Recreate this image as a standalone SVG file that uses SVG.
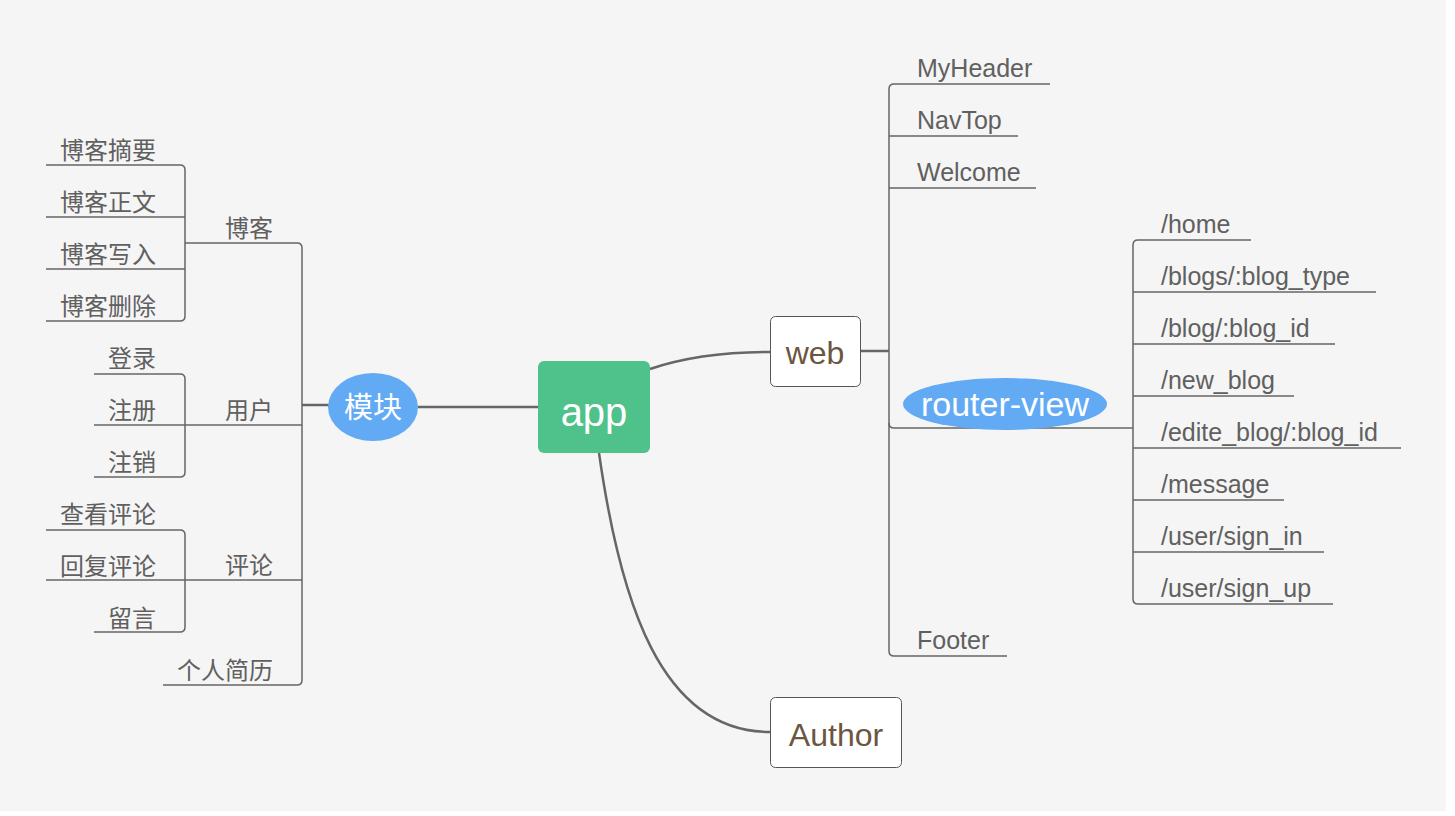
<svg xmlns="http://www.w3.org/2000/svg" width="1455" height="816" viewBox="0 0 1455 816">
<style>
.bg{fill:#f5f5f5}
.main{fill:none;stroke:#666;stroke-width:2.5}
.br{fill:none;stroke:#666;stroke-width:1.5}
.cn{font-family:"Noto Sans CJK SC","Noto Sans",sans-serif;font-size:24px;fill:#606060}
.en{font-family:"Liberation Sans",Arial,sans-serif;font-size:25px;fill:#606060}
.box{fill:#fff;stroke:#555;stroke-width:1}
.boxt{font-family:"Liberation Sans",Arial,sans-serif;font-size:32px;fill:#6b5640;text-anchor:middle}
</style>
<rect x="0" y="0" width="1455" height="816" fill="#fff"/>
<rect class="bg" x="0" y="0" width="1446" height="811"/>
<g id="connectors">
<path class="main" d="M418,407 H538"/>
<path class="main" d="M650,369 Q700,352 770,352"/>
<path class="main" d="M599,453 C620,600 660,732 770,732"/>
<path class="main" d="M329,405 H302"/>
<path class="main" d="M861,351 H889"/>
<path class="br" d="M213,243 H297 Q302,243 302,248 V680 Q302,685 297,685 H163"/>
<path class="br" d="M213,425 H302"/>
<path class="br" d="M213,580 H302"/>
<path class="br" d="M46,165 H180 Q185,165 185,170 V316 Q185,321 180,321 H46"/>
<path class="br" d="M46,217 H185 M46,269 H185 M185,243 H213"/>
<path class="br" d="M94,374 H180 Q185,374 185,379 V472 Q185,477 180,477 H94"/>
<path class="br" d="M94,425 H213"/>
<path class="br" d="M46,530 H180 Q185,530 185,535 V627 Q185,632 180,632 H94"/>
<path class="br" d="M46,580 H213"/>
<path class="br" d="M1050,84 H894 Q889,84 889,89 V651 Q889,656 894,656 H1007"/>
<path class="br" d="M889,136 H1018 M889,188 H1036"/>
<path class="br" d="M889,423 Q889,428 894,428 H1133"/>
<path class="br" d="M1251,240 H1138 Q1133,240 1133,245 V599 Q1133,604 1138,604 H1333"/>
<path class="br" d="M1133,292 H1376 M1133,344 H1335 M1133,396 H1294 M1133,448 H1401 M1133,500 H1284 M1133,552 H1324"/>
</g>
<g id="app"><rect x="538" y="361" width="112" height="92" rx="6" fill="#4fc28b"/><text x="594" y="426" font-family="Liberation Sans,Arial,sans-serif" font-size="40" fill="#fff" text-anchor="middle">app</text></g>
<g id="mokuai"><ellipse cx="373" cy="407" rx="45" ry="34" fill="#63aaf5"/><text x="373" y="418" class="cn" style="font-size:29px;fill:#fff" text-anchor="middle">模块</text></g>
<g id="web"><rect class="box" x="770.5" y="316.5" width="90" height="70" rx="5"/><text class="boxt" x="815" y="364">web</text></g>
<g id="author"><rect class="box" x="770.5" y="697.5" width="131" height="70" rx="5"/><text class="boxt" x="836" y="746">Author</text></g>
<g id="router-view"><ellipse cx="1005" cy="404" rx="102" ry="26" fill="#63aaf5"/><text x="1005" y="416" font-family="Liberation Sans,Arial,sans-serif" font-size="34" fill="#fff" text-anchor="middle">router-view</text></g>
<g id="left-nodes">
<g id="n-boke"><text class="cn" x="225" y="237">博客</text></g>
<g id="n-yonghu"><text class="cn" x="225" y="419">用户</text></g>
<g id="n-pinglun"><text class="cn" x="225" y="574">评论</text></g>
<g id="n-jianli"><text class="cn" x="177" y="679">个人简历</text></g>
<g id="n-zhaiyao"><text class="cn" x="60" y="159">博客摘要</text></g>
<g id="n-zhengwen"><text class="cn" x="60" y="211">博客正文</text></g>
<g id="n-xieru"><text class="cn" x="60" y="263">博客写入</text></g>
<g id="n-shanchu"><text class="cn" x="60" y="315">博客删除</text></g>
<g id="n-denglu"><text class="cn" x="108" y="367">登录</text></g>
<g id="n-zhuce"><text class="cn" x="108" y="419">注册</text></g>
<g id="n-zhuxiao"><text class="cn" x="108" y="471">注销</text></g>
<g id="n-chakan"><text class="cn" x="60" y="523">查看评论</text></g>
<g id="n-huifu"><text class="cn" x="60" y="575">回复评论</text></g>
<g id="n-liuyan"><text class="cn" x="108" y="627">留言</text></g>
</g>
<g id="right-nodes">
<g id="n-myheader"><text class="en" x="917" y="77">MyHeader</text></g>
<g id="n-navtop"><text class="en" x="917" y="129">NavTop</text></g>
<g id="n-welcome"><text class="en" x="917" y="181">Welcome</text></g>
<g id="n-footer"><text class="en" x="917" y="649">Footer</text></g>
<g id="n-home"><text class="en" x="1161" y="233">/home</text></g>
<g id="n-blogs"><text class="en" x="1161" y="285">/blogs/:blog_type</text></g>
<g id="n-blog"><text class="en" x="1161" y="337">/blog/:blog_id</text></g>
<g id="n-new"><text class="en" x="1161" y="389">/new_blog</text></g>
<g id="n-edite"><text class="en" x="1161" y="441">/edite_blog/:blog_id</text></g>
<g id="n-message"><text class="en" x="1161" y="493">/message</text></g>
<g id="n-signin"><text class="en" x="1161" y="545">/user/sign_in</text></g>
<g id="n-signup"><text class="en" x="1161" y="597">/user/sign_up</text></g>
</g>
</svg>
